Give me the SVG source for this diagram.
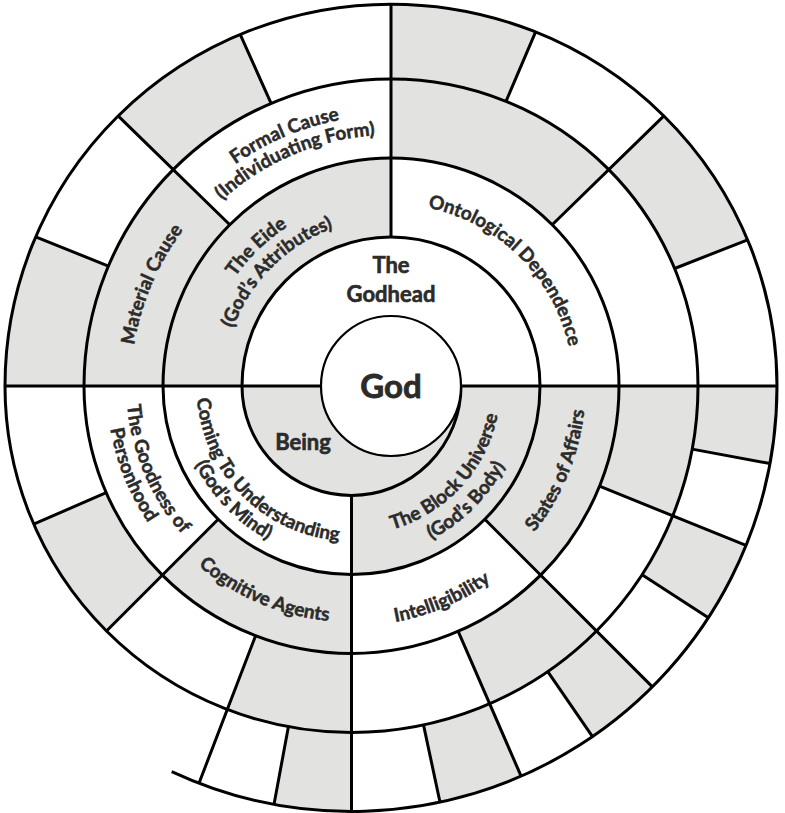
<svg xmlns="http://www.w3.org/2000/svg" xmlns:xlink="http://www.w3.org/1999/xlink" width="785" height="813" viewBox="0 0 785 813">
<style>
.g{fill:#e2e2e0}
.ln{fill:none;stroke:#000;stroke-width:3}
.t{font-family:Lato,"Open Sans","Liberation Sans",sans-serif;font-weight:700;font-size:19px;fill:#2b2b2b;stroke:#2b2b2b;stroke-width:0.5px}
.h{font-family:Lato,"Open Sans","Liberation Sans",sans-serif;font-weight:700;font-size:22px;fill:#2b2b2b;stroke:#2b2b2b;stroke-width:0.6px;text-anchor:middle}
</style>
<defs>
<path id="p1" d="M217.4,463.3 A190,190 0 0 1 474.3,215.2"/>
<path id="p2" d="M238.7,457 A168,168 0 0 1 462,233.7"/>
<path id="p3" d="M312.9,221.6 A182,182 0 0 1 556.5,461.8"/>
<path id="p4" d="M213.7,576.2 A260,260 0 0 1 404.6,126.4"/>
<path id="p5" d="M120.4,400.2 A271,271 0 0 1 589.2,201.2"/>
<path id="p6" d="M140.3,399.1 A251,251 0 0 1 574.6,214.8"/>
<path id="p7" d="M211,320.5 A155,155 0 0 0 417,526.5"/>
<path id="p8" d="M194.2,309.3 A175,175 0 0 0 422.7,545.9"/>
<path id="p9" d="M294.2,523.6 A149,149 0 0 0 483.8,317.4"/>
<path id="p10" d="M278.4,542.8 A173,173 0 0 0 508.3,312.9"/>
<path id="p11" d="M198,221.4 A225,225 0 0 0 363.3,610.7"/>
<path id="p12" d="M187.6,203.9 A245,245 0 0 0 360.1,630.9"/>
<path id="p13" d="M115.8,373.7 A236,236 0 0 0 524.1,547"/>
<path id="p14" d="M176,549.7 A240,240 0 0 0 591.2,373.4"/>
<path id="p15" d="M342.1,619.8 A234,234 0 0 0 509,212.9"/>
</defs>
<rect width="785" height="813" fill="#fff"/>
<g id="regions">
<g id="eide"><path class="g" d="M163,386 A228,228 0 0 1 391,158 L391,237 A149,149 0 0 0 242,386 Z"/>
<text class="t" text-anchor="middle"><textPath xlink:href="#p1" href="#p1" startOffset="50%">The Eide</textPath></text>
<text class="t" text-anchor="middle"><textPath xlink:href="#p2" href="#p2" startOffset="50%">(God’s Attributes)</textPath></text></g>
<g id="ontological-dependence"><text class="t" text-anchor="middle"><textPath xlink:href="#p3" href="#p3" startOffset="50%">Ontological Dependence</textPath></text></g>
<g id="material-cause"><path class="g" d="M84,386 A307,307 0 0 1 173.9,168.9 L229.8,224.8 A228,228 0 0 0 163,386 Z"/>
<text class="t" text-anchor="middle"><textPath xlink:href="#p4" href="#p4" startOffset="50%">Material Cause</textPath></text></g>
<g id="formal-cause"><text class="t" text-anchor="middle"><textPath xlink:href="#p5" href="#p5" startOffset="50%">Formal Cause</textPath></text>
<text class="t" text-anchor="middle"><textPath xlink:href="#p6" href="#p6" startOffset="50%">(Individuating Form)</textPath></text></g>
<g id="u3-gray"><path class="g" d="M391,79 A307,307 0 0 1 608.1,168.9 L552.2,224.8 A228,228 0 0 0 391,158 Z"/></g>
<g id="u4-gray">
<path class="g" d="M5,386 A386,382 0 0 1 35.7,236.8 L108.4,266.1 A307,307 0 0 0 84,386 Z"/>
<path class="g" d="M118.1,115.9 A386,382 0 0 1 240.2,34.4 L271.1,103.4 A307,307 0 0 0 173.9,168.9 Z"/>
<path class="g" d="M391,4 A386,382 0 0 1 535.6,31.8 L506,101.4 A307,307 0 0 0 391,79 Z"/>
<path class="g" d="M663.9,115.9 A386,382 0 0 1 747.6,239.8 L674.6,268.5 A307,307 0 0 0 608.1,168.9 Z"/>
</g>
<g id="being"><path class="g" d="M461,386 A109.5,109.5 0 0 1 242,386 Z"/>
<text class="h" x="303" y="450">Being</text></g>
<g id="block-universe"><path class="g" d="M540,386 A188.5,188.5 0 0 1 351.5,574.5 L351.5,495.5 A109.5,109.5 0 0 0 461,386 Z"/>
<text class="t" text-anchor="middle"><textPath xlink:href="#p9" href="#p9" startOffset="50%">The Block Universe</textPath></text>
<text class="t" text-anchor="middle"><textPath xlink:href="#p10" href="#p10" startOffset="50%">(God’s Body)</textPath></text></g>
<g id="coming-to-understanding"><text class="t" text-anchor="middle"><textPath xlink:href="#p7" href="#p7" startOffset="50%">Coming To Understanding</textPath></text>
<text class="t" text-anchor="middle"><textPath xlink:href="#p8" href="#p8" startOffset="50%">(God’s Mind)</textPath></text></g>
<g id="states-of-affairs"><path class="g" d="M619,386 A267.5,267.5 0 0 1 540.7,575.2 L484.8,519.3 A188.5,188.5 0 0 0 540,386 Z"/>
<text class="t" text-anchor="middle"><textPath xlink:href="#p15" href="#p15" startOffset="50%">States of Affairs</textPath></text></g>
<g id="intelligibility"><text class="t" text-anchor="middle"><textPath xlink:href="#p14" href="#p14" startOffset="50%">Intelligibility</textPath></text></g>
<g id="cognitive-agents"><path class="g" d="M351.5,653.5 A267.5,267.5 0 0 1 162.3,575.2 L218.2,519.3 A188.5,188.5 0 0 0 351.5,574.5 Z"/>
<text class="t" text-anchor="middle"><textPath xlink:href="#p13" href="#p13" startOffset="50%">Cognitive Agents</textPath></text></g>
<g id="goodness-of-personhood"><text class="t" text-anchor="middle"><textPath xlink:href="#p11" href="#p11" startOffset="50%">The Goodness of</textPath></text>
<text class="t" text-anchor="middle"><textPath xlink:href="#p12" href="#p12" startOffset="50%">Personhood</textPath></text></g>
<g id="l4-gray">
<path class="g" d="M698,386 A346.5,346.5 0 0 1 672.8,515.8 L599.5,486.2 A267.5,267.5 0 0 0 619,386 Z"/>
<path class="g" d="M596.5,631 A346.5,346.5 0 0 1 489.6,703.8 L458.2,631.3 A267.5,267.5 0 0 0 540.7,575.2 Z"/>
<path class="g" d="M351.5,732.5 A346.5,346.5 0 0 1 227.3,709.5 L255.6,635.7 A267.5,267.5 0 0 0 351.5,653.5 Z"/>
<path class="g" d="M106.5,631 A346.5,346.5 0 0 1 33.7,524.1 L106.2,492.7 A267.5,267.5 0 0 0 162.3,575.2 Z"/>
</g>
<g id="l5-gray">
<path class="g" d="M777,386 A425.5,425.5 0 0 1 769.9,463.5 L692.2,449.1 A346.5,346.5 0 0 0 698,386 Z"/>
<path class="g" d="M746,545.4 A425.5,425.5 0 0 1 708.4,617.7 L642.1,574.7 A346.5,346.5 0 0 0 672.8,515.8 Z"/>
<path class="g" d="M652.4,686.9 A425.5,425.5 0 0 1 592.5,736.7 L547.8,671.6 A346.5,346.5 0 0 0 596.5,631 Z"/>
<path class="g" d="M521.1,776.2 A425.5,425.5 0 0 1 440,802.2 L423.5,724.9 A346.5,346.5 0 0 0 489.6,703.8 Z"/>
<path class="g" d="M351.5,811.5 A425.5,425.5 0 0 1 274,804.4 L288.4,726.7 A346.5,346.5 0 0 0 351.5,732.5 Z"/>
</g>
</g>
<g id="connectors">
<path class="ln" d="M461,386 A109.5,109.5 0 0 1 242,386 A149,149 0 0 1 540,386 A188.5,188.5 0 0 1 163,386 A228,228 0 0 1 619,386 A267.5,267.5 0 0 1 84,386 A307,307 0 0 1 698,386 A346.5,346.5 0 0 1 5,386 A386,382 0 0 1 777,386 A425.5,425.5 0 0 1 171.7,771.6"/>
<path class="ln" d="M5,386 H322 M460,386 H777 M391,237 V4 M351.5,495.5 V811.5
M108.4,266.1 L35.7,236.8 M229.8,224.8 L118.1,115.9 M271.1,103.4 L240.2,34.4 M506,101.4 L535.6,31.8 M552.2,224.8 L663.9,115.9 M674.6,268.5 L747.6,239.8
M692.2,449.1 L769.9,463.5 M599.5,486.2 L746,545.4 M642.1,574.7 L708.4,617.7 M484.8,519.3 L652.4,686.9 M547.8,671.6 L592.5,736.7 M458.2,631.3 L521.1,776.2 M423.5,724.9 L440,802.2 M288.4,726.7 L274,804.4 M255.6,635.7 L199,783.2 M218.2,519.3 L106.5,631 M106.2,492.7 L33.7,524.1"/>
</g>
<g id="godhead"><text class="h" x="391" y="273">The</text><text class="h" x="391" y="302">Godhead</text></g>
<g id="god"><circle cx="391" cy="386" r="70" fill="#fff" stroke="#000" stroke-width="2.2"/>
<text class="h" x="391" y="398" style="font-size:33px;stroke-width:0.8px">God</text></g>
</svg>
